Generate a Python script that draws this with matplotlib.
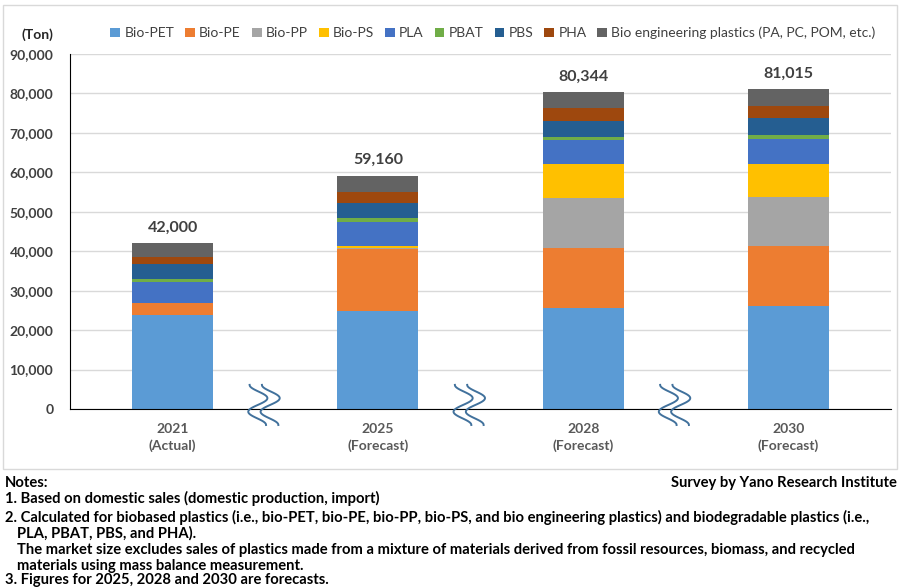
import numpy as np
import matplotlib
matplotlib.use("Agg")
import matplotlib.pyplot as plt
from matplotlib.patches import Rectangle

plt.rcParams['font.family'] = ['Lato', 'DejaVu Sans']

# data (tons)
years = ["2021\n(Actual)", "2025\n(Forecast)", "2028\n(Forecast)", "2030\n(Forecast)"]
series_names = ["Bio-PET", "Bio-PE", "Bio-PP", "Bio-PS", "PLA", "PBAT", "PBS", "PHA",
                "Bio engineering plastics (PA, PC, POM, etc.)"]
bio_pet = [23900, 24900, 25700, 26200]
bio_pe = [3100, 15600, 15200, 15000]
bio_pp = [0, 400, 12700, 12600]
bio_ps = [0, 400, 8400, 8400]
pla = [5300, 6200, 6300, 6300]
pbat = [600, 800, 600, 850]
pbs = [3900, 3900, 4200, 4350]
pha = [1800, 2900, 3100, 3000]
bio_eng = [3400, 4060, 4144, 4315]
totals = [42000, 59160, 80344, 81015]

colors = ["#5B9BD5", "#ED7D31", "#A5A5A5", "#FFC000", "#4472C4",
          "#70AD47", "#255E91", "#9E480E", "#636363"]

fig = plt.figure(figsize=(9.01, 5.88), dpi=100)
ax = fig.add_axes([0.0777, 0.3044, 0.9113, 0.6038])

# chart frame
fig.patches.append(Rectangle((3 / 901, 1 - 469 / 588), 894 / 901, 464 / 588,
                             transform=fig.transFigure, fill=False,
                             edgecolor="#D9D9D9", linewidth=1))

x = np.arange(len(years))
bottom = np.zeros(len(years))
all_series = [bio_pet, bio_pe, bio_pp, bio_ps, pla, pbat, pbs, pha, bio_eng]
for name, vals, c in zip(series_names, all_series, colors):
    ax.bar(x, vals, width=0.395, bottom=bottom, color=c, label=name, zorder=3)
    bottom += np.array(vals)

for xi, top, tot in zip(x, bottom, totals):
    ax.text(xi, top + 2200, f"{tot:,}", ha="center", va="bottom",
            fontsize=11.5, fontweight="bold", color="#404040")

ax.set_xlim(-0.5, 3.5)
ax.set_ylim(0, 90000)
ax.set_yticks(np.arange(0, 90001, 10000))
ax.set_yticklabels([f"{v:,}" for v in range(0, 90001, 10000)],
                   fontsize=10, fontweight="bold", color="#404040")
ax.set_xticks(x)
ax.set_xticklabels(years, fontsize=10, fontweight="bold", color="#595959",
                   linespacing=1.45)
ax.tick_params(length=0)
ax.tick_params(axis="y", pad=12)
ax.tick_params(axis="x", pad=10)
ax.yaxis.grid(True, color="#D9D9D9", linewidth=1, zorder=0)
ax.set_axisbelow(True)
for s in ["top", "right"]:
    ax.spines[s].set_visible(False)
ax.spines["left"].set_color("black")
ax.spines["bottom"].set_color("black")
ax.spines["bottom"].set_zorder(4)

# axis break marks between categories
trans = ax.get_xaxis_transform()
t = np.linspace(0, 1, 60)
for i in range(3):
    xc = i + 0.45
    for off in (-0.03, 0.03):
        xs = xc + off - 0.045 * np.cos(3 * np.pi * t) - 0.01 * t
        ys = 0.068 - 0.113 * t
        ax.plot(xs, ys, color="#41719C", linewidth=1.4, transform=trans,
                clip_on=False, zorder=5)

fig.text(37 / 901, 1 - 35 / 588, "(Ton)", ha="center", va="center",
         fontsize=10, fontweight="bold", color="#262626")

handles, labels = ax.get_legend_handles_labels()
fig.legend(handles, labels, ncol=9, loc="center", bbox_to_anchor=(493 / 901, 1 - 33 / 588),
           frameon=False, fontsize=10, handlelength=0.7, handleheight=0.7,
           handletextpad=0.3, columnspacing=0.8, labelcolor="#404040")

# notes
note_kw = dict(fontsize=10.6, fontweight="bold", color="black", va="center")
fig.text(5 / 901, 1 - 483 / 588, "Notes:", ha="left", **note_kw)
fig.text(897 / 901, 1 - 483 / 588, "Survey by Yano Research Institute", ha="right", **note_kw)
notes = [
    (5, 498, "1. Based on domestic sales (domestic production, import)"),
    (5, 517, "2. Calculated for biobased plastics (i.e., bio-PET, bio-PE, bio-PP, bio-PS, and bio engineering plastics) and biodegradable plastics (i.e.,"),
    (17, 533, "PLA, PBAT, PBS, and PHA)."),
    (17, 550, "The market size excludes sales of plastics made from a mixture of materials derived from fossil resources, biomass, and recycled"),
    (17, 566, "materials using mass balance measurement."),
    (5, 580, "3. Figures for 2025, 2028 and 2030 are forecasts."),
]
for nx, ny, txt in notes:
    fig.text(nx / 901, 1 - ny / 588, txt, ha="left", **note_kw)

fig.savefig("out.png", dpi=100)
